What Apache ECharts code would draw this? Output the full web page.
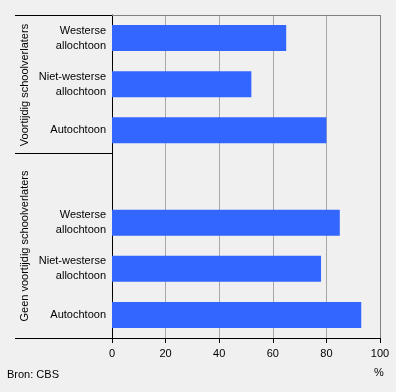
<!DOCTYPE html>
<html>
<head>
<meta charset="utf-8">
<script src="https://cdn.jsdelivr.net/npm/echarts@6/dist/echarts.min.js"></script>
<style>html,body{margin:0;padding:0;background:#f0f0f0;}#c{width:396px;height:392px;}</style>
</head>
<body>
<div id="c"></div>
<script>
const categories = ['Westerse\nallochtoon', 'Niet-westerse\nallochtoon', 'Autochtoon', '', 'Westerse\nallochtoon', 'Niet-westerse\nallochtoon', 'Autochtoon'];
const values = [65, 52, 80, '-', 85, 78, 93];
const groupLabels = ['Voortijdig schoolverlaters', 'Geen voortijdig schoolverlaters'];
const xTicks = [0, 20, 40, 60, 80, 100];
const sourceText = 'Bron: CBS';
const unitText = '%';

const FONT = "'Liberation Sans', Arial, sans-serif";
const FS = 11;
const chart = echarts.init(document.getElementById('c'), null, {renderer: 'canvas'});
chart.setOption({
  backgroundColor: '#f0f0f0',
  animation: false,
  grid: {left: 112, right: 16, top: 15, bottom: 54},
  xAxis: {
    type: 'value', min: xTicks[0], max: xTicks[xTicks.length - 1], interval: 20,
    axisLine: {show: true, lineStyle: {color: '#000', width: 1}},
    axisTick: {show: true, length: 5, lineStyle: {color: '#000'}},
    axisLabel: {color: '#000', fontFamily: FONT, fontSize: FS, margin: 10},
    splitLine: {show: true, lineStyle: {color: '#a8a8a8', width: 1}}
  },
  yAxis: {
    type: 'category', data: categories, inverse: true,
    axisLine: {show: true, lineStyle: {color: '#000', width: 1}},
    axisTick: {show: false},
    axisLabel: {color: '#000', fontFamily: FONT, fontSize: FS, margin: 6, align: 'right', lineHeight: 15},
    splitLine: {show: false}
  },
  series: [{
    type: 'bar', data: values, barWidth: 26,
    itemStyle: {color: '#3366ff'}
  }],
  graphic: [
    {type: 'line', shape: {x1: 15, y1: 15.5, x2: 112, y2: 15.5}, style: {stroke: '#000', lineWidth: 1}, z: 10},
    {type: 'line', shape: {x1: 112, y1: 15.5, x2: 380.5, y2: 15.5}, style: {stroke: '#808080', lineWidth: 1}, z: 10},
    {type: 'line', shape: {x1: 380.5, y1: 15, x2: 380.5, y2: 338}, style: {stroke: '#808080', lineWidth: 1}, z: 10},
    {type: 'line', shape: {x1: 15, y1: 153.5, x2: 112, y2: 153.5}, style: {stroke: '#000', lineWidth: 1}, z: 10},
    {type: 'line', shape: {x1: 15, y1: 338.5, x2: 112, y2: 338.5}, style: {stroke: '#000', lineWidth: 1}, z: 10},
    {type: 'text', x: 25, y: 85, rotation: Math.PI / 2,
     style: {text: groupLabels[0], fill: '#000', font: FS + 'px ' + FONT, textAlign: 'center', textVerticalAlign: 'middle'}},
    {type: 'text', x: 25, y: 246, rotation: Math.PI / 2,
     style: {text: groupLabels[1], fill: '#000', font: FS + 'px ' + FONT, textAlign: 'center', textVerticalAlign: 'middle'}},
    {type: 'text', left: 7, top: 369,
     style: {text: sourceText, fill: '#000', font: FS + 'px ' + FONT}},
    {type: 'text', left: 374, top: 367,
     style: {text: unitText, fill: '#000', font: FS + 'px ' + FONT}}
  ]
});
</script>
</body>
</html>
